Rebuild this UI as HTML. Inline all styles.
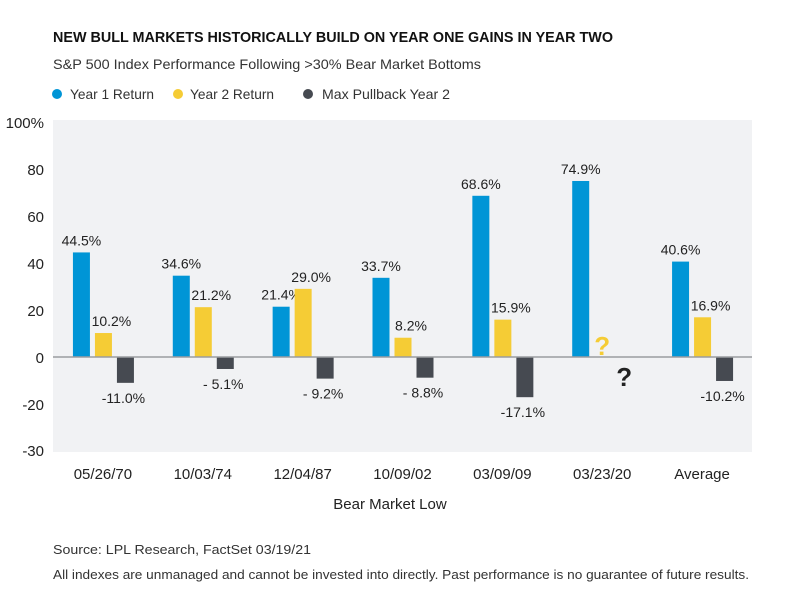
<!DOCTYPE html>
<html><head><meta charset="utf-8"><style>
body{margin:0;background:#fff;}
svg{display:block;font-family:"Liberation Sans",sans-serif;}
</style></head><body>
<svg id="chart" width="799" height="611" viewBox="0 0 799 611">
<text x="53" y="42" font-size="15" font-weight="bold" fill="#111" textLength="560" lengthAdjust="spacingAndGlyphs">NEW BULL MARKETS HISTORICALLY BUILD ON YEAR ONE GAINS IN YEAR TWO</text>
<text x="53" y="69" font-size="14" fill="#333" textLength="428" lengthAdjust="spacingAndGlyphs">S&amp;P 500 Index Performance Following &gt;30% Bear Market Bottoms</text>
<g>
<circle cx="57" cy="94" r="5" fill="#0095d6"/>
<text x="70" y="99" font-size="14" fill="#333" textLength="84" lengthAdjust="spacingAndGlyphs">Year 1 Return</text>
<circle cx="178" cy="94" r="5" fill="#f5cc35"/>
<text x="190" y="99" font-size="14" fill="#333" textLength="84" lengthAdjust="spacingAndGlyphs">Year 2 Return</text>
<circle cx="308" cy="94" r="5" fill="#464a51"/>
<text x="322" y="99" font-size="14" fill="#333" textLength="128" lengthAdjust="spacingAndGlyphs">Max Pullback Year 2</text>
</g>
<rect x="53" y="120" width="699" height="332" fill="#f1f2f4"/>
<g id="marks"></g>
<text x="390" y="509" font-size="15" fill="#222" text-anchor="middle">Bear Market Low</text>
<text x="53" y="554" font-size="13" fill="#333" textLength="258" lengthAdjust="spacingAndGlyphs">Source: LPL Research, FactSet   03/19/21</text>
<text x="53" y="579" font-size="13" fill="#333" textLength="696" lengthAdjust="spacingAndGlyphs">All indexes are unmanaged and cannot be invested into directly. Past performance is no guarantee of future results.</text>
</svg>
<script>
const categories = ["05/26/70","10/03/74","12/04/87","10/09/02","03/09/09","03/23/20","Average"];
const year1 = [44.5,34.6,21.4,33.7,68.6,74.9,40.6];
const year2 = [10.2,21.2,29.0,8.2,15.9,null,16.9];
const pullback = [-11.0,-5.1,-9.2,-8.8,-17.1,null,-10.2];
const year1Labels = ["44.5%","34.6%","21.4%","33.7%","68.6%","74.9%","40.6%"];
const year2Labels = ["10.2%","21.2%","29.0%","8.2%","15.9%","?","16.9%"];
const pullbackLabels = ["-11.0%","- 5.1%","- 9.2%","- 8.8%","-17.1%","?","-10.2%"];
const yTicks = [100,80,60,40,20,0,-20];
const yTickLabels = ["100%","80","60","40","20","0","-20"];

const NS="http://www.w3.org/2000/svg";
const g=document.getElementById('marks');
const plotL=53, plotR=752, plotB=452;
const y0=357, pxPer=2.35;
function yScale(v){return y0 - v*pxPer;}
const band=(plotR-plotL)/categories.length;
function xCenter(i){return plotL + band*(i+0.5);}
function mk(tag,attrs){const e=document.createElementNS(NS,tag);for(const k in attrs)e.setAttribute(k,attrs[k]);g.appendChild(e);return e;}
function txt(x,y,s,size,fill,anchor){const t=mk('text',{x:x,y:y,'font-size':size,fill:fill,'text-anchor':anchor||'middle'});t.textContent=s;return t;}

yTicks.forEach((v,i)=>{
  const t=txt(44,yScale(v)+6,yTickLabels[i],15,'#222','end');
  
  
});
const bt=txt(44,plotB+4,"-30",15,'#222','end');



const W=17;
function bar(i,off,v,color,name){
  const x=xCenter(i)+off;
  const top=Math.min(yScale(v),y0), h=Math.abs(yScale(v)-y0);
  const r=mk('rect',{x:x,y:top,width:W,height:h,fill:color});
  
  
  return x+W/2;
}
categories.forEach((c,i)=>{
  const cx=xCenter(i);
  const xl=txt(cx,479,c,15,'#222');
  
  
  const bx=bar(i,-30,year1[i],'#0095d6','bar-year1');
  const l1=txt(bx,yScale(year1[i])-7,year1Labels[i],14,'#222');
  
  
  if(year2[i]!==null){
    const yx=bar(i,-8,year2[i],'#f5cc35','bar-year2');
    const l2=txt(yx+8,yScale(year2[i])-7,year2Labels[i],14,'#222');
    
    
  } else {
    const q=txt(cx,355,year2Labels[i],26,'#f5cc35');
    q.setAttribute('font-weight','bold');
    
    
  }
  if(pullback[i]!==null){
    const dx=bar(i,14,pullback[i],'#464a51','bar-pullback');
    const l3=txt(dx-2,yScale(pullback[i])+20,pullbackLabels[i],14,'#222');
    
    
  } else {
    const q=txt(cx+22,386,pullbackLabels[i],26,'#222');
    q.setAttribute('font-weight','bold');
    
    
  }
});
const zl=mk('line',{x1:plotL,x2:plotR,y1:y0,y2:y0,stroke:'#9a9ca0','stroke-width':1.5});


</script>
</body></html>
